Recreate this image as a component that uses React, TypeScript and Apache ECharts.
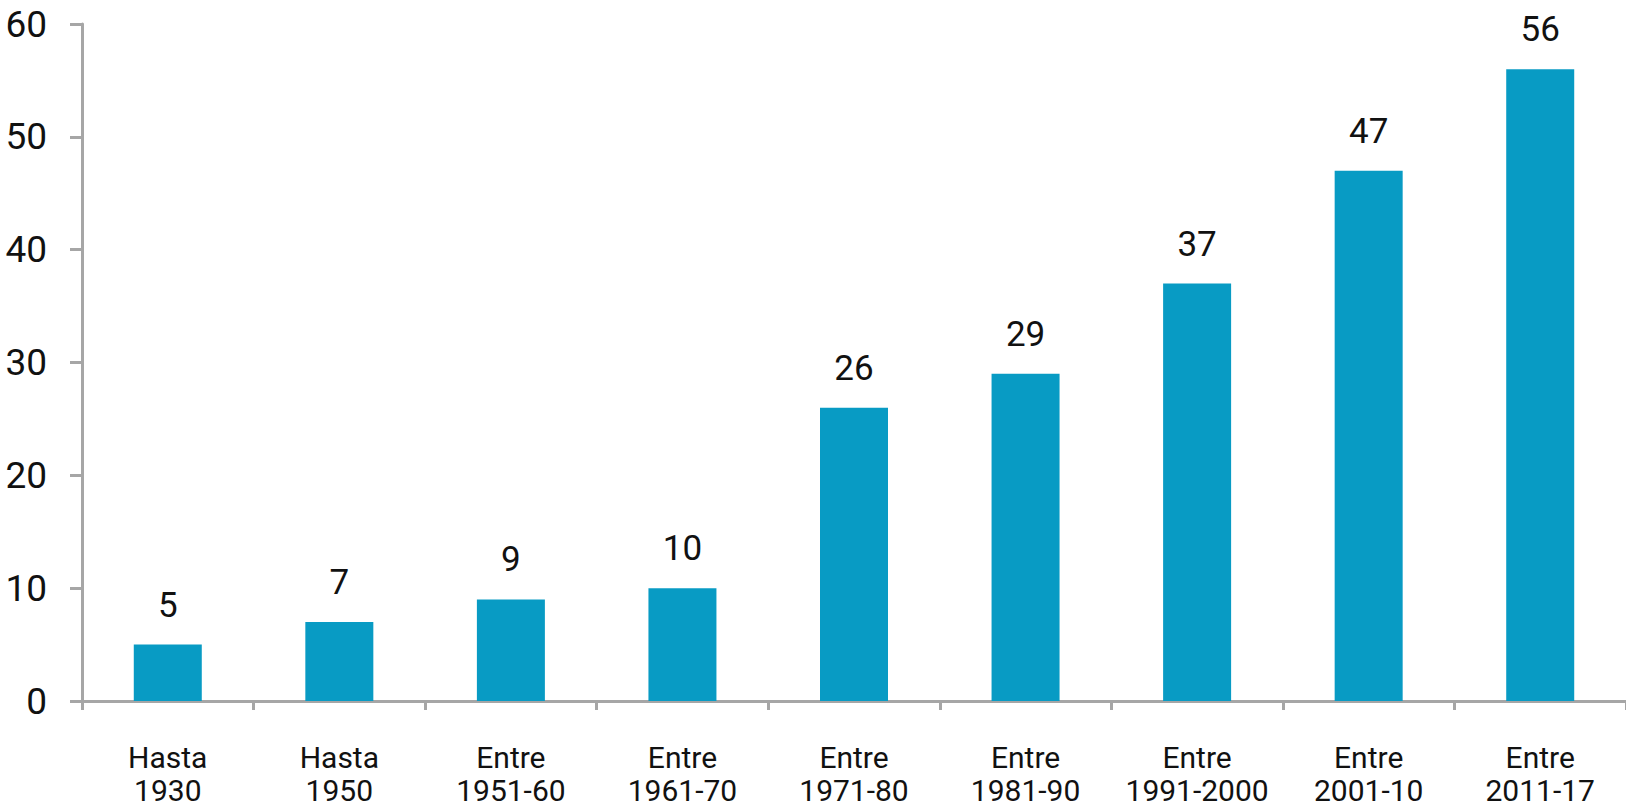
import React, { useEffect, useRef } from "react";
import * as echarts from "echarts";

const categories = [
  "Hasta\n1930",
  "Hasta\n1950",
  "Entre\n1951-60",
  "Entre\n1961-70",
  "Entre\n1971-80",
  "Entre\n1981-90",
  "Entre\n1991-2000",
  "Entre\n2001-10",
  "Entre\n2011-17",
];
const values = [5, 7, 9, 10, 26, 29, 37, 47, 56];
const yTicks = { min: 0, max: 60, interval: 10 };

const FONT = "Roboto, 'Noto Sans', sans-serif";
const AXIS_COLOR = "#a6a6a6";

export default function App() {
  const ref = useRef<HTMLDivElement>(null);
  useEffect(() => {
    document.body.style.margin = "0";
    if (!ref.current) return;
    const chart = echarts.init(ref.current, undefined, { renderer: "svg" });
    chart.setOption({
      animation: false,
      grid: { left: 82, top: 24, width: 1550, height: 681, containLabel: false },
      xAxis: {
        type: "category",
        data: categories,
        boundaryGap: true,
        axisLine: { show: true, lineStyle: { color: AXIS_COLOR, width: 3 } },
        axisTick: { show: true, length: 9, interval: 0, lineStyle: { color: AXIS_COLOR, width: 3 } },
        axisLabel: {
          interval: 0,
          margin: 40,
          color: "#111",
          fontFamily: FONT,
          fontSize: 30,
          lineHeight: 33,
        },
      },
      yAxis: {
        type: "value",
        min: yTicks.min,
        max: yTicks.max,
        interval: yTicks.interval,
        splitLine: { show: false },
        axisLine: { show: true, lineStyle: { color: AXIS_COLOR, width: 3 } },
        axisTick: { show: true, length: 12, lineStyle: { color: AXIS_COLOR, width: 3 } },
        axisLabel: {
          margin: 35,
          color: "#111",
          fontFamily: FONT,
          fontSize: 37,
        },
      },
      series: [
        {
          type: "bar",
          data: values,
          barWidth: 68,
          itemStyle: { color: "#089bc4" },
          label: {
            show: true,
            position: "top",
            distance: 22,
            color: "#111",
            fontFamily: FONT,
            fontSize: 35,
          },
        },
      ],
    });
    return () => chart.dispose();
  }, []);
  return <div ref={ref} style={{ width: 1626, height: 807 }} />;
}
